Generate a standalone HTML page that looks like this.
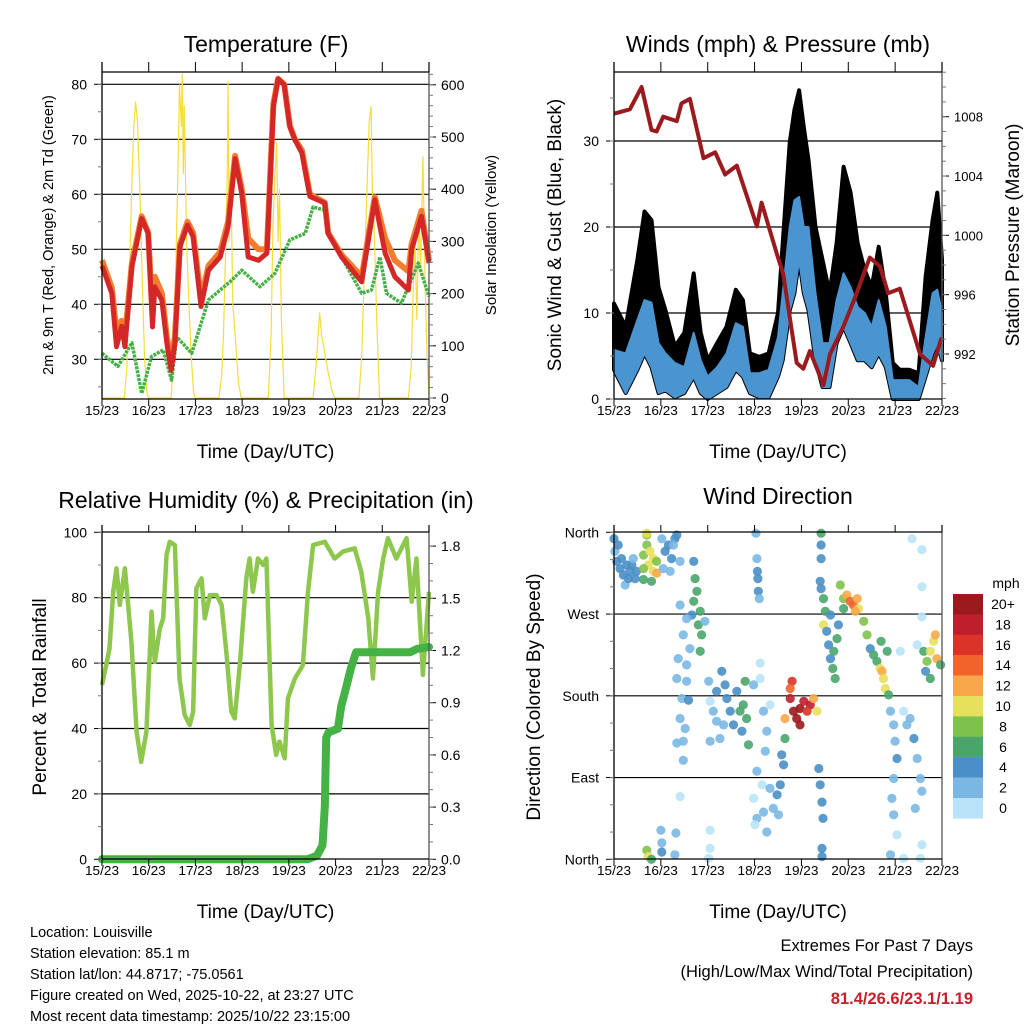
<!DOCTYPE html>
<html><head><meta charset="utf-8"><style>
html,body{margin:0;padding:0;background:#fff;}
svg{display:block;font-family:"Liberation Sans",Arial,sans-serif;}
</style></head><body>
<svg id="s" width="1024" height="1024" viewBox="0 0 1024 1024" xmlns="http://www.w3.org/2000/svg"></svg>
<script>
// ---------- DATA ----------
const dayTicks = ['15/23','16/23','17/23','18/23','19/23','20/23','21/23','22/23'];
// Temperature (red, 2m)
const redTimes = [0,0.21,0.31,0.42,0.49,0.64,0.85,0.99,1.08,1.13,1.28,1.39,1.48,1.56,1.67,1.83,1.95,2.12,2.28,2.53,2.70,2.85,2.99,3.13,3.35,3.53,3.67,3.77,3.90,4.02,4.13,4.28,4.45,4.77,4.84,5.13,5.56,5.84,6.06,6.27,6.56,6.63,6.84,7.0];
const redTemps = [47,42,32.3,36,32.3,46.8,55.6,52.9,35.9,43.2,40.8,32.9,28,33,50.5,54.4,52.3,39.6,46.2,48.6,54.1,66.5,60.2,48.6,48,49.3,75.9,81,79.9,72.3,69.9,67.5,59.6,58.4,52.9,48.6,44.1,59,49.3,45,42.6,50,56,47.5];
const orangeTemps = [48,43,35,37,34,47.5,56,53,38,45,42,34,30,34,51,55,53,41,47,49.5,55,67,61,52,50,50,76.5,81,80,72.5,70,68,60,58.5,53,49,45,59.5,52,48,46,51,57,48];
// Dewpoint (green)
const tdTimes = [0,0.34,0.64,0.85,1.06,1.31,1.49,1.6,1.92,2.28,2.78,2.99,3.38,3.7,4.02,4.35,4.52,4.77,4.84,5.13,5.56,5.77,5.95,6.09,6.41,6.77,7.0];
const tdTemps = [31.1,28.7,33,23.8,30.5,31.7,26.2,34.1,31.1,40.8,44.4,46.2,43.2,45.6,51.7,52.9,57.7,57.1,52.9,48.6,42,42.6,48.6,42,40.2,47.5,41.4];
// Solar insolation (W/m2)
const solarTimes = [0,0.48,0.53,0.58,0.63,0.68,0.72,0.76,0.81,0.86,0.91,0.96,1.0,
 1.48,1.53,1.58,1.63,1.66,1.70,1.72,1.74,1.76,1.81,1.86,1.91,1.96,2.0,
 2.50,2.56,2.60,2.64,2.68,2.70,2.72,2.76,2.80,2.86,2.92,2.98,
 3.56,3.62,3.66,3.70,3.74,3.77,3.80,3.84,3.90,
 4.52,4.58,4.64,4.66,4.70,4.76,4.84,4.92,4.98,
 5.50,5.56,5.62,5.68,5.72,5.76,5.79,5.83,5.88,5.94,
 6.56,6.62,6.66,6.70,6.74,6.78,6.82,6.87,6.92,6.96,7.0];
const solarValues = [0,0,60,200,380,520,567,530,400,230,80,10,0,
 0,80,250,450,600,520,620,430,560,300,180,80,10,0,
 0,40,120,260,420,606,300,420,180,110,30,0,
 0,120,330,420,488,300,400,150,0,
 0,60,140,163,120,90,50,15,0,
 0,80,250,420,530,558,380,320,150,0,
 0,60,200,300,150,350,250,462,200,80,0];
// Winds (mph)
const windTimes = [0,0.25,0.5,0.65,0.8,0.95,1.1,1.3,1.5,1.7,1.85,2.0,2.2,2.4,2.6,2.75,2.9,3.1,3.3,3.5,3.6,3.75,3.85,3.95,4.05,4.15,4.3,4.45,4.6,4.75,4.9,5.05,5.2,5.35,5.5,5.65,5.8,5.95,6.1,6.3,6.5,6.65,6.8,6.9,7.0];
const gustMax = [11.1,8.4,16.2,21.8,20.8,13,10.3,6.1,7.7,14.6,7.7,4.5,6.5,8.4,12.7,11.5,5.3,4.9,5.3,10,18.1,29.8,33.6,35.9,31.6,27.8,20,16.2,12.3,18.1,27,24,18.1,15,13,17.7,12.3,4.2,3.4,3.4,3,14.2,20.8,24,16.2];
const windMax = [5.7,5.3,9.2,11.5,11.2,6.5,5.3,4.2,3.7,7.7,4.5,2.6,3.7,5.3,8.8,8.4,3,3,3.4,7.2,12.3,20,23.1,23.5,20,20,12.3,6.5,6.5,11.5,14.6,13,10.7,10,8.4,11.5,8.4,2.2,2.2,2.2,1.4,7.2,12.3,12.7,10];
const windMin = [3.4,0.7,3.4,5.3,3.7,0.7,1,0.2,0.7,2.6,0.7,0,0.7,1.4,3.4,2.6,0.7,0.2,0.2,2.6,4.5,10.3,12.3,16.2,12.3,10.3,4.5,1.4,1.4,6.5,8.4,6.5,4.5,4.5,3.7,5.3,3.7,0,0,0,0,2.6,5.3,6.5,4.5];
// Pressure (mb)
const presTimes = [0,0.34,0.59,0.80,0.91,1.05,1.34,1.44,1.62,1.91,2.16,2.37,2.62,3.05,3.15,3.47,3.61,3.90,4.04,4.18,4.47,4.61,4.89,5.18,5.46,5.68,5.85,6.10,6.53,6.81,6.99];
const presValues = [1008.2,1008.5,1010,1007.1,1007,1008,1007.7,1008.9,1009.2,1005.2,1005.6,1004.1,1004.7,1000.6,1002.2,998.8,997.4,991.4,991,992.2,989.9,992,993.8,996.1,998.5,997.9,996.1,996.4,992,991.2,993.1];
// Relative humidity (%)
const rhTimes = [0,0.09,0.16,0.24,0.31,0.38,0.49,0.63,0.74,0.84,0.95,1.02,1.06,1.13,1.24,1.31,1.38,1.45,1.56,1.66,1.77,1.88,1.95,2.02,2.13,2.2,2.31,2.45,2.56,2.66,2.77,2.84,2.95,3.09,3.16,3.23,3.34,3.45,3.52,3.63,3.73,3.8,3.91,3.98,4.13,4.3,4.41,4.52,4.77,4.98,5.16,5.41,5.55,5.7,5.8,5.91,6.02,6.12,6.3,6.52,6.63,6.73,6.87,7.0];
const rhValues = [53.3,59.4,64.5,81.8,89,77.8,89,66.5,39,29.8,39,61.5,75.7,60.4,70.6,73.7,93,97.1,96.1,55.3,44.1,41.1,45.1,82.9,85.9,73.7,80.8,80.8,77.8,63.5,45.1,43.1,59.4,85.9,92,81.8,92,90,92,41.1,31.9,36,30.9,49.2,55.3,59.4,81.8,96.1,97.1,92,94.1,95.1,87.9,73.7,55.3,81.8,92,98.2,92,98.2,78.8,92,56.4,81.8];
// Precipitation (in)
const precipTimes = [0,4.4,4.6,4.72,4.77,4.8,4.85,5.05,5.12,5.22,5.33,5.44,6.6,6.75,7.0];
const precipValues = [0,0,0.02,0.08,0.3,0.7,0.73,0.75,0.88,0.98,1.1,1.19,1.19,1.21,1.22];
// Wind direction scatter
const dirTimes = [0,.02,.06,.13,.2,.24,.31,.38,.41,.48,.34,.09,.16,.27,.45,
 .63,.7,.77,.84,.73,.84,.63,.91,.8,.7,.91,.63,.7,
 1.02,1.09,1.16,1.23,1.3,1.05,1.2,1.34,1.27,
 1.41,1.7,1.73,1.77,1.7,1.84,1.8,1.87,1.66,1.94,1.84,1.41,1.55,1.48,1.62,1.55,
 1.34,1.45,1.41,1.48,1.59,1.55,1.37,1.52,1.34,1.48,
 2.02,2.05,2.12,2.19,2.3,2.37,2.41,2.34,2.26,2.48,2.55,2.62,2.69,2.76,2.83,2.8,2.73,2.87,2.05,2.19,
 2.98,3.12,3.19,3.26,3.23,3.05,3.16,2.98,3.05,3.19,3.26,3.33,3.4,3.48,3.55,3.62,3.58,3.65,3.51,3.01,3.33,
 3.8,3.76,3.83,3.9,3.97,4.05,4.19,4.26,4.33,4.12,3.65,3.76,3.97,
 3.03,3.05,3.06,3.07,3.08,3.1,3.12,
 4.42,4.42,4.42,4.4,4.42,4.47,4.51,4.47,4.37,4.4,4.44,4.46,4.44,4.44,
 4.54,4.58,4.62,4.67,4.72,4.69,4.76,4.79,4.62,
 4.83,4.9,4.97,5.04,5.11,5.19,5.22,4.9,5.33,5.15,
 5.4,5.47,5.54,5.61,5.68,5.72,5.75,5.79,5.86,5.83,5.7,
 5.9,5.97,6.0,6.04,5.97,5.93,5.97,6.18,6.25,6.32,6.4,6.47,6.54,6.57,6.43,6.57,6.18,6.54,6.04,6.11,6.47,6.36,6.57,6.57,6.57,5.9,
 6.61,6.68,6.75,6.82,6.86,6.89,6.97,6.75,6.65,
 .7,.73,.8,1,1.02,1.02,1.3,1.32,2.05,2.05,2.02,1.41];
const dirValues = [353,339,328,320,313,302,309,324,331,317,317,346,331,324,309,
 335,346,339,331,324,317,320,328,306,357,315,308,359,
 353,339,346,331,353,320,317,357,346,
 328,328,309,295,284,273,258,247,269,262,229,280,265,247,232,214,
 199,177,155,130,175,196,221,144,128,109,
 196,174,163,185,207,192,177,148,133,163,148,185,163,170,155,196,141,126,130,152,
 192,199,163,141,119,97,82,67,45,52,30,78,56,71,82,104,115,133,49,38,170,
 196,177,163,155,166,174,170,177,163,163,155,188,148,
 359,331,317,309,295,287,216,
 359,346,331,306,298,287,273,258,100,82,63,45,12,3,
 251,236,221,210,199,229,243,258,269,
 302,287,291,284,280,287,276,276,262,273,
 247,232,225,218,210,207,199,188,181,229,240,
 163,148,130,111,89,67,49,163,148,155,133,111,89,75,56,16,1,1,27,229,236,353,341,300,267,5,
 229,218,229,240,247,221,214,199,207,
 10,3,0,32,18,8,5,29,32,12,1,69];
const dirSpeeds = [4,3,4,4,4,3,4,4,3,4,5,4,4,4,4,
 8,9,10,10,10,10,8,8,7,8,12,7,10,
 3,4,4,4,4,3,2,4,3,
 2,4,6,6,6,6,7,6,4,3,7,2,3,3,2,2,
 2,2,2,2,4,3,3,3,2,2,
 2,1,2,4,4,4,4,3,2,4,4,4,6,7,6,6,4,6,2,3,
 3,1,2,2,3,2,1,1,2,2,2,3,3,5,5,4,4,7,3,1,1,
 16,19,20,20,20,18,19,12,10,17,12,15,20,
 2,3,4,4,4,2,1,
 6,4,4,4,4,6,6,10,4,4,4,4,4,4,
 4,4,4,6,6,6,6,4,4,
 8,8,12,14,14,12,10,7,8,13,
 8,5,6,6,10,13,10,10,7,6,6,
 2,3,3,4,2,2,2,1,2,3,4,2,2,2,2,1,1,1,1,1,1,1,1,1,1,2,
 6,8,10,10,12,12,6,7,5,
 8,10,6,3,3,4,3,2,1,1,1,1];
const speedLabels = ['20+','18','16','14','12','10','8','6','4','2','0'];
const speedColors = ['#9b1a1e','#bf1e2d','#dc3328','#f2632a','#f8a84a','#e7e05b','#7fc24b','#4aa56b','#4a8fc7','#7ab8e3','#b9e3f8'];

// ---------- HELPERS ----------
const NS='http://www.w3.org/2000/svg';
const svg=document.getElementById('s');
function mk(tag,attrs,parent){const e=document.createElementNS(NS,tag);for(const k in attrs)e.setAttribute(k,attrs[k]);(parent||svg).appendChild(e);return e;}
function txt(x,y,s,size,anchor,parent,extra){const e=mk('text',Object.assign({x:x,y:y,'font-size':size,'text-anchor':anchor||'middle',fill:'#000'},extra||{}),parent);e.textContent=s;return e;}
function grp(name,parent){const g=mk('g',{},parent);return g;}
function pathFrom(ts,vs,xf,yf){let d='';for(let i=0;i<ts.length;i++){d+=(i?'L':'M')+xf(ts[i]).toFixed(1)+' '+yf(vs[i]).toFixed(1);}return d;}

function frame(p,g){
  // side borders and bottom
  mk('line',{x1:p.x0,y1:p.yt,x2:p.x0,y2:p.y1,stroke:'#000','stroke-width':1.3},g);
  mk('line',{x1:p.x1,y1:p.yt,x2:p.x1,y2:p.y1,stroke:'#555','stroke-width':1.3},g);
  mk('line',{x1:p.x0,y1:p.y1,x2:p.x1,y2:p.y1,stroke:'#000','stroke-width':1.3},g);
  mk('line',{x1:p.x0,y1:p.y0,x2:p.x1,y2:p.y0,stroke:'#000','stroke-width':1.3},g);
  const xs=grp('x-axis',g);
  for(let i=0;i<dayTicks.length;i++){
    const x=p.xs(i);
    mk('line',{x1:x,y1:p.yt,x2:x,y2:p.y0,stroke:'#000','stroke-width':1},xs);
    mk('line',{x1:x,y1:p.y1,x2:x,y2:p.y1+7,stroke:'#000','stroke-width':1},xs);
    const t=txt(x,p.y1+16,dayTicks[i],12.5,'middle',xs,{'textLength':34,'lengthAdjust':'spacingAndGlyphs'});
    
    
  }
  const at=txt((p.x0+p.x1)/2,p.y1+59,'Time (Day/UTC)',19,'middle',xs);
  
  
}
function leftTicks(p,g,vals,labels,yf,minors){
  const a=grp('left-axis',g);
  for(let i=0;i<vals.length;i++){const y=yf(vals[i]);
    mk('line',{x1:p.x0-8,y1:y,x2:p.x0,y2:y,stroke:'#000','stroke-width':1},a);
    const t=txt(p.x0-15,y+5,labels[i],14,'end',a);
    
    }
  (minors||[]).forEach(v=>{const y=yf(v);mk('line',{x1:p.x0-4,y1:y,x2:p.x0,y2:y,stroke:'#777','stroke-width':1},a);});
}
function rightTicks(p,g,vals,labels,yf,minors,size){
  const a=grp('right-axis',g);
  for(let i=0;i<vals.length;i++){const y=yf(vals[i]);
    mk('line',{x1:p.x1,y1:y,x2:p.x1+7,y2:y,stroke:'#000','stroke-width':1},a);
    const t=txt(p.x1+12,y+5,labels[i],size||14,'start',a);
    
    }
  (minors||[]).forEach(v=>{const y=yf(v);mk('line',{x1:p.x1,y1:y,x2:p.x1+4,y2:y,stroke:'#777','stroke-width':1},a);});
}
function gridY(p,g,vals,yf){vals.forEach(v=>{const y=yf(v);const l=mk('line',{x1:p.x0,y1:y,x2:p.x1,y2:y,stroke:'#000','stroke-width':1.2},g);});}
function range(a,b,s){const r=[];for(let v=a;v<=b+1e-9;v+=s)r.push(+v.toFixed(3));return r;}
function vtitle(x,y,s,size,g,name){const t=txt(0,0,s,size,'middle',g,{transform:`translate(${x},${y}) rotate(-90)`});return t;}
function title(x,y,s,g,name){const t=txt(x,y,s,23,'middle',g);}

// ---------- PANEL 1: TEMPERATURE ----------
(function(){
  const p={x0:102,x1:429,yt:62,y0:72,y1:399};p.xs=d=>p.x0+(p.x1-p.x0)*d/7;
  const g=grp('temperature-panel');
  const yT=T=>84.3+(80-T)*5.5, yS=S=>398-S*0.522;
  title(266,52,'Temperature (F)',g,'temperature-title');
  gridY(p,g,[30,40,50,60,70,80],yT);
  const sol=mk('path',{d:pathFrom(solarTimes,solarValues,p.xs,yS),fill:'none',stroke:'#f7dc3a','stroke-width':1.2,'stroke-linejoin':'round'},g);
  
  const td=mk('path',{d:pathFrom(tdTimes,tdTemps,p.xs,yT),fill:'none',stroke:'#46b046','stroke-width':3.5,'stroke-dasharray':'3 1','stroke-linejoin':'round'},g);
  
  const o=mk('path',{d:pathFrom(redTimes,orangeTemps,p.xs,yT),fill:'none',stroke:'#f27d2e','stroke-width':6,'stroke-linejoin':'round'},g);
  
  const r=mk('path',{d:pathFrom(redTimes,redTemps,p.xs,yT),fill:'none',stroke:'#d42828','stroke-width':5,'stroke-linejoin':'round'},g);
  
  frame(p,g);
  leftTicks(p,g,[30,40,50,60,70,80],['30','40','50','60','70','80'],yT,range(25,80,5));
  rightTicks(p,g,[0,100,200,300,400,500,600],['0','100','200','300','400','500','600'],yS,range(0,620,20));
  vtitle(53,235,'2m & 9m T (Red, Orange) & 2m Td (Green)',14.5,g,'y-axis-title');
  vtitle(496,235,'Solar Insolation (Yellow)',15,g,'y2-axis-title');
})();

// ---------- PANEL 2: WINDS & PRESSURE ----------
(function(){
  const p={x0:614,x1:942,yt:62,y0:72,y1:399};p.xs=d=>p.x0+(p.x1-p.x0)*d/7;
  const g=grp('winds-panel');
  const yW=w=>399-w*8.6, yP=v=>116.7+(1008-v)*14.83;
  title(778,52,'Winds (mph) & Pressure (mb)',g,'winds-title');
  gridY(p,g,[10,20,30],yW);
  // gust band
  let d='';windTimes.forEach((t,i)=>{d+=(i?'L':'M')+p.xs(t).toFixed(1)+' '+yW(gustMax[i]).toFixed(1);});
  for(let i=windTimes.length-1;i>=0;i--)d+='L'+p.xs(windTimes[i]).toFixed(1)+' '+yW(windMin[i]).toFixed(1);
  const gb=mk('path',{d:d+'Z',fill:'#000',stroke:'#000','stroke-width':4,'stroke-linejoin':'round'},g);
  
  d='';windTimes.forEach((t,i)=>{d+=(i?'L':'M')+p.xs(t).toFixed(1)+' '+yW(windMax[i]).toFixed(1);});
  for(let i=windTimes.length-1;i>=0;i--)d+='L'+p.xs(windTimes[i]).toFixed(1)+' '+yW(windMin[i]).toFixed(1);
  const wb=mk('path',{d:d+'Z',fill:'#4a94d0',stroke:'#4a94d0','stroke-width':2,'stroke-linejoin':'round'},g);
  
  const pr=mk('path',{d:pathFrom(presTimes,presValues,p.xs,yP),fill:'none',stroke:'#9b1a1e','stroke-width':4,'stroke-linejoin':'round'},g);
  
  frame(p,g);
  leftTicks(p,g,[0,10,20,30],['0','10','20','30'],yW,range(0,38,5));
  rightTicks(p,g,[992,996,1000,1004,1008],['992','996','1000','1004','1008'],yP,range(989,1011,1),13);
  vtitle(561,235,'Sonic Wind & Gust (Blue, Black)',19,g,'y-axis-title');
  vtitle(1019,235,'Station Pressure (Maroon)',19,g,'y2-axis-title');
})();

// ---------- PANEL 3: RH & PRECIP ----------
(function(){
  const p={x0:102,x1:429,yt:525,y0:532,y1:859};p.xs=d=>p.x0+(p.x1-p.x0)*d/7;
  const g=grp('humidity-panel');
  const yR=v=>859.3-v*3.27, yPr=v=>859.3-v/0.3*52.2;
  title(266,508,'Relative Humidity (%) & Precipitation (in)',g,'humidity-title');
  gridY(p,g,[20,40,60,80],yR);
  const rh=mk('path',{d:pathFrom(rhTimes,rhValues,p.xs,yR),fill:'none',stroke:'#8dc74e','stroke-width':4.5,'stroke-linejoin':'round'},g);
  
  const pc=mk('path',{d:pathFrom(precipTimes,precipValues,p.xs,yPr),fill:'none',stroke:'#45b246','stroke-width':8,'stroke-linecap':'round','stroke-linejoin':'round'},g);
  
  frame(p,g);
  leftTicks(p,g,[0,20,40,60,80,100],['0','20','40','60','80','100'],yR,range(0,100,10));
  rightTicks(p,g,[0,0.3,0.6,0.9,1.2,1.5,1.8],['0.0','0.3','0.6','0.9','1.2','1.5','1.8'],yPr,range(0,1.85,0.1));
  vtitle(46,697,'Percent & Total Rainfall',19,g,'y-axis-title');
})();

// ---------- PANEL 4: WIND DIRECTION ----------
(function(){
  const p={x0:614,x1:942,yt:525,y0:532,y1:859};p.xs=d=>p.x0+(p.x1-p.x0)*d/7;
  const g=grp('direction-panel');
  const yD=v=>859.3-v/360*327;
  title(778,504,'Wind Direction',g,'direction-title');
  gridY(p,g,[90,180,270],yD);
  const pts=grp('direction-points',g);
  const colorFor=s=>{let idx=10-Math.min(10,Math.floor(s/2));return speedColors[idx];};
  for(let i=0;i<dirTimes.length;i++){
    const c=mk('circle',{cx:p.xs(dirTimes[i]).toFixed(1),cy:yD(dirValues[i]).toFixed(1),r:4.6,fill:colorFor(dirSpeeds[i]),'fill-opacity':0.9},pts);
    
    
  }
  frame(p,g);
  leftTicks(p,g,[0,90,180,270,360],['North','East','South','West','North'],yD,range(0,360,30));
  vtitle(540,697,'Direction (Colored By Speed)',19,g,'y-axis-title');
  // colorbar
  const cb=grp('speed-colorbar',g);
  const mt=txt(1006,588,'mph',14,'middle',cb);
  for(let i=0;i<speedLabels.length;i++){
    const y=594+i*20.4;
    const r=mk('rect',{x:953,y:y,width:30,height:20.6,fill:speedColors[i]},cb);
    
    
    const t=txt(1003,y+15,speedLabels[i],14,'middle',cb);
    
    
  }
})();

// ---------- FOOTER ----------
(function(){
  const g=grp('station-info');
  const lines=['Location: Louisville','Station elevation: 85.1 m','Station lat/lon: 44.8717; -75.0561','Figure created on Wed, 2025-10-22, at 23:27 UTC','Most recent data timestamp: 2025/10/22 23:15:00'];
  lines.forEach((s,i)=>{const t=txt(30,937+i*21,s,14.5,'start',g);});
  const e=grp('extremes-summary');
  txt(973,951,'Extremes For Past 7 Days',16.5,'end',e);
  txt(973,977,'(High/Low/Max Wind/Total Precipitation)',16.5,'end',e);
  const v=txt(973,1004,'81.4/26.6/23.1/1.19',16.5,'end',e,{fill:'#c8202a','font-weight':'bold'});
  
  
})();
</script>
</body></html>
